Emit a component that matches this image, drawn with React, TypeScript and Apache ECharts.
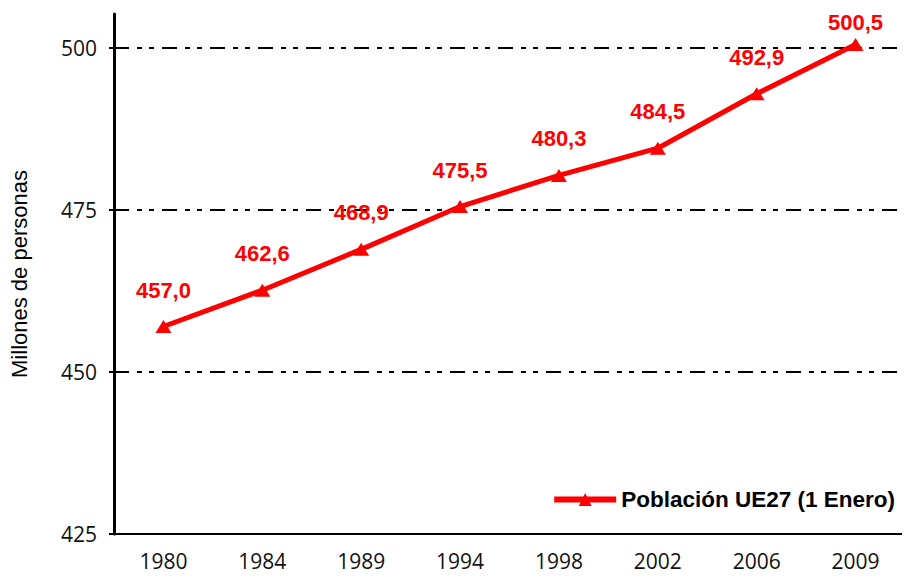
import React, { useEffect, useRef } from "react";
import * as echarts from "echarts";

const years = ["1980", "1984", "1989", "1994", "1998", "2002", "2006", "2009"];
const population = [457.0, 462.6, 468.9, 475.5, 480.3, 484.5, 492.9, 500.5];
const yTicks = [425, 450, 475, 500];
const seriesName = "Población UE27 (1 Enero)";
const yAxisName = "Millones de personas";

export default function App() {
  const ref = useRef<HTMLDivElement>(null);
  useEffect(() => {
    if (!ref.current) return;
    const chart = echarts.init(ref.current, null, { renderer: "svg" });
    const fmt = (v: number) => v.toFixed(1).replace(".", ",");
    const data = population.map((v, i) =>
      i === population.length - 1
        ? { value: v, label: { distance: 4 } }
        : { value: v }
    );
    chart.setOption({
      animation: false,
      backgroundColor: "#ffffff",
      grid: { left: 113, right: 5, top: 14, bottom: 46, containLabel: false },
      legend: {
        right: 10,
        top: 483,
        itemWidth: 62,
        itemHeight: 16,
        lineStyle: { width: 6 },
        textStyle: {
          fontFamily: "Liberation Sans",
          fontWeight: "bold",
          fontSize: 22.5,
          color: "#000",
        },
        data: [seriesName],
      },
      xAxis: {
        type: "category",
        data: years,
        boundaryGap: true,
        z: 5,
        axisLine: { lineStyle: { color: "#000", width: 2 } },
        axisTick: { show: false },
        axisLabel: {
          fontFamily: "Open Sans",
          fontSize: 21,
          color: "#111",
          margin: 16,
        },
      },
      yAxis: {
        type: "value",
        min: 425,
        max: 505.2,
        interval: 25,
        name: yAxisName,
        nameLocation: "middle",
        nameGap: 84,
        nameTextStyle: {
          fontFamily: "Liberation Sans",
          fontSize: 22,
          color: "#000",
        },
        axisLine: { show: true, lineStyle: { color: "#000", width: 3 } },
        axisTick: {
          show: true,
          length: 5,
          customValues: yTicks,
          lineStyle: { color: "#000", width: 2 },
        },
        axisLabel: {
          fontFamily: "Open Sans",
          fontSize: 21,
          color: "#111",
          margin: 17,
          customValues: yTicks,
        },
        splitLine: {
          show: true,
          lineStyle: {
            color: "#000",
            width: 2,
            type: [15, 8, 5, 7, 5, 8],
          },
        },
      },
      series: [
        {
          name: seriesName,
          type: "line",
          data,
          symbol: "triangle",
          symbolSize: [16, 13],
          itemStyle: { color: "#ff0000" },
          lineStyle: { color: "#ff0000", width: 5 },
          label: {
            show: true,
            position: "top",
            distance: 19,
            formatter: (p: any) => fmt(p.value),
            fontFamily: "Liberation Sans",
            fontWeight: "bold",
            fontSize: 22,
            color: "#ff0000",
          },
          z: 3,
        },
      ],
    });
    return () => chart.dispose();
  }, []);
  return <div ref={ref} style={{ width: 910, height: 580, margin: -8 }} />;
}
